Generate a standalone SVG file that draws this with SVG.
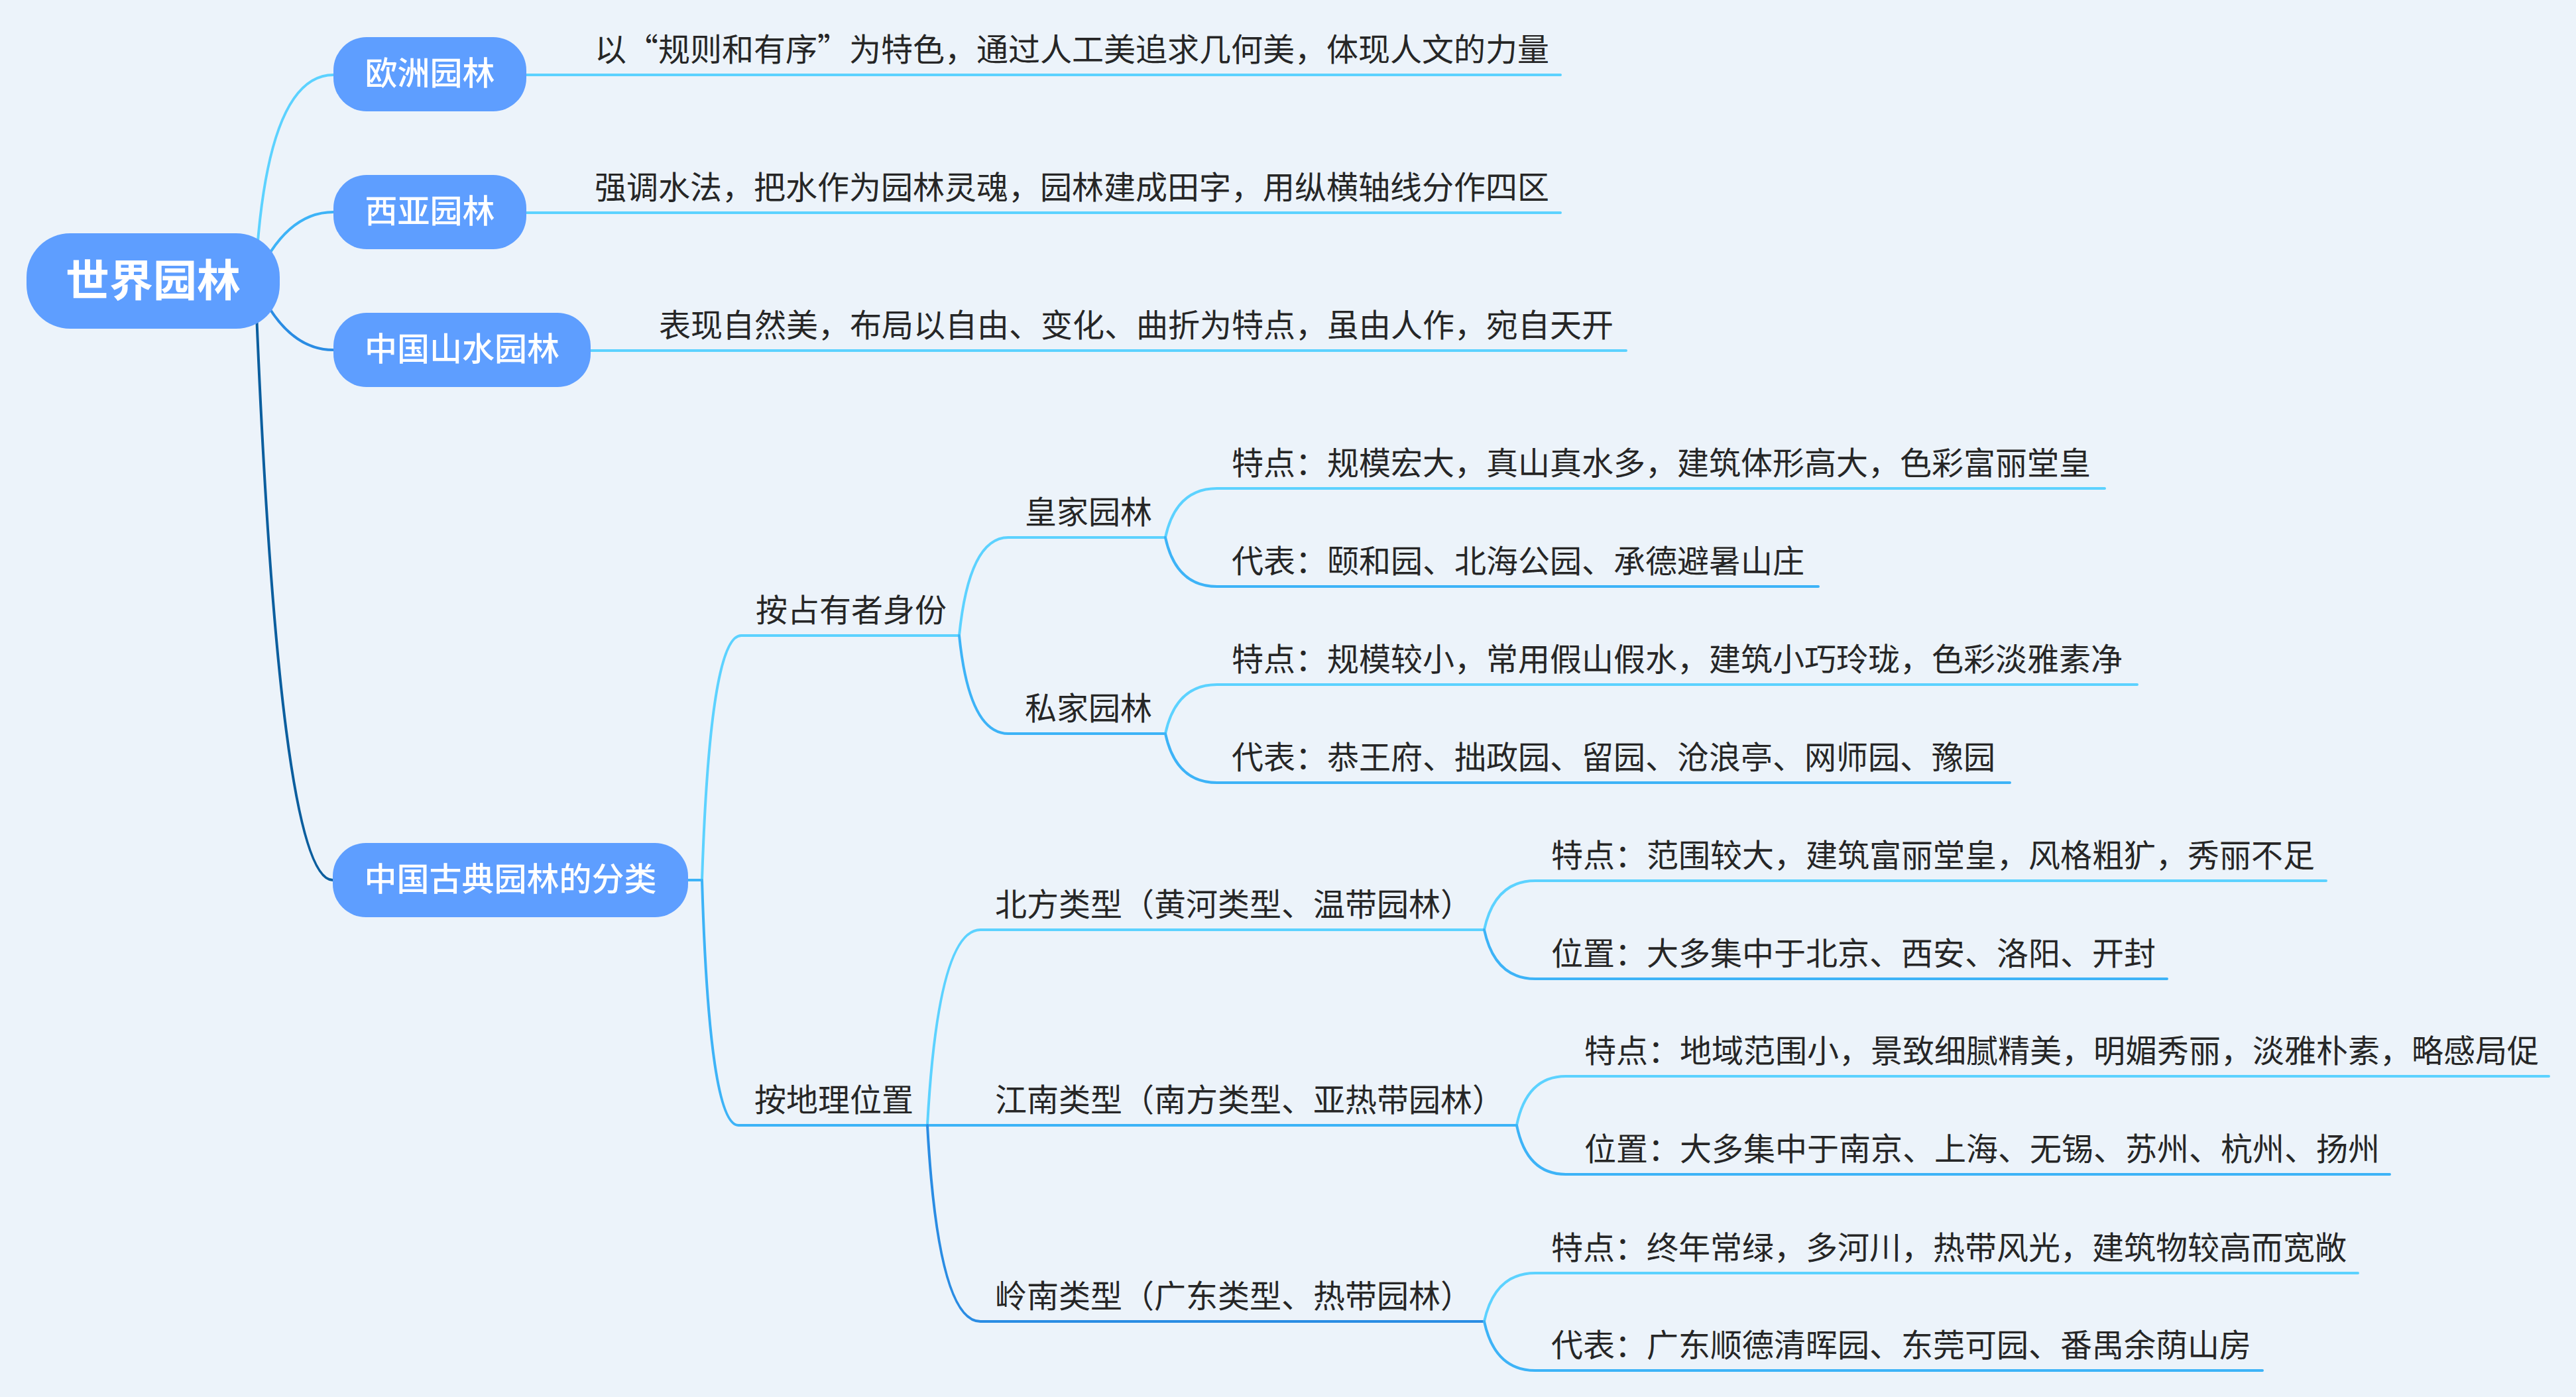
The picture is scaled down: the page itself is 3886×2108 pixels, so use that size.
<svg xmlns="http://www.w3.org/2000/svg" width="3886" height="2108" viewBox="0 0 3886 2108">
<style>
.c1{fill:none;stroke:#5CD2FF;stroke-width:4;stroke-linecap:round}
.c2{fill:none;stroke:#3DB3F7;stroke-width:4;stroke-linecap:round}
.c3{fill:none;stroke:#2A8CE3;stroke-width:4;stroke-linecap:round}
.c4{fill:none;stroke:#0B5E9E;stroke-width:4;stroke-linecap:round}
.node{fill:#5E9EFF}
.nt{font-family:"Noto Sans CJK SC","Noto Sans",sans-serif;font-size:49px;fill:#FFFFFF;text-anchor:middle;font-weight:500}
.rt{font-family:"Noto Sans CJK SC","Noto Sans",sans-serif;font-size:66px;fill:#FFFFFF;text-anchor:middle;font-weight:700}
.lt{font-family:"Noto Sans CJK SC","Noto Sans",sans-serif;font-size:48px;fill:#262626}
</style>
<rect x="0" y="0" width="3886" height="2108" fill="#ECF3FA"/>
<g id="connectors">
  <path class="c1" d="M385 424 Q400 113 503 113"/>
  <path class="c2" d="M385 424 Q430 320 503 320"/>
  <path class="c3" d="M385 424 Q430 528 503 528"/>
  <path class="c4" d="M385 424 Q420 1328 502 1328"/>
  <path class="c1" d="M794 113 H2354"/>
  <path class="c1" d="M794 321 H2354"/>
  <path class="c1" d="M891 529 H2453"/>
  <path class="c2" d="M1038 1328 H1059"/>
  <path class="c1" d="M1059 1328 Q1071 959 1118 959 H1447"/>
  <path class="c2" d="M1059 1328 Q1070 1698 1114 1698 H1399"/>
  <path class="c1" d="M1447 959 Q1462 811 1521 811 H1758"/>
  <path class="c2" d="M1447 959 Q1462 1107 1521 1107 H1758"/>
  <path class="c1" d="M1758 811 Q1774 737 1836 737 H3175"/>
  <path class="c2" d="M1758 811 Q1774 885 1836 885 H2743"/>
  <path class="c1" d="M1758 1107 Q1774 1033 1836 1033 H3224"/>
  <path class="c2" d="M1758 1107 Q1774 1181 1836 1181 H3032"/>
  <path class="c1" d="M1399 1698 Q1415 1403 1479 1403 H2239"/>
  <path class="c2" d="M1399 1698 H2288"/>
  <path class="c3" d="M1399 1698 Q1415 1994 1479 1994 H2239"/>
  <path class="c1" d="M2239 1403 Q2255 1329 2316 1329 H3509"/>
  <path class="c2" d="M2239 1403 Q2255 1477 2316 1477 H3269"/>
  <path class="c1" d="M2288 1698 Q2303 1624 2362 1624 H3845"/>
  <path class="c2" d="M2288 1698 Q2303 1772 2362 1772 H3605"/>
  <path class="c1" d="M2239 1994 Q2255 1921 2316 1921 H3557"/>
  <path class="c2" d="M2239 1994 Q2255 2068 2316 2068 H3413"/>
</g>
<g id="root">
  <rect class="node" x="40" y="352" width="382" height="144" rx="66"/>
  <text class="rt" x="231" y="447">世界园林</text>
</g>
<g id="n-europe">
  <rect class="node" x="503" y="56" width="291" height="112" rx="50"/>
  <text class="nt" x="648.5" y="128">欧洲园林</text>
  <text class="lt" x="897" y="92">以“规则和有序”为特色，通过人工美追求几何美，体现人文的力量</text>
</g>
<g id="n-westasia">
  <rect class="node" x="503" y="264" width="291" height="112" rx="50"/>
  <text class="nt" x="648.5" y="336">西亚园林</text>
  <text class="lt" x="897" y="300">强调水法，把水作为园林灵魂，园林建成田字，用纵横轴线分作四区</text>
</g>
<g id="n-china">
  <rect class="node" x="503" y="472" width="388" height="112" rx="50"/>
  <text class="nt" x="697" y="544">中国山水园林</text>
  <text class="lt" x="994" y="508">表现自然美，布局以自由、变化、曲折为特点，虽由人作，宛自天开</text>
</g>
<g id="n-classic">
  <rect class="node" x="502" y="1272" width="536" height="112" rx="50"/>
  <text class="nt" x="770" y="1344">中国古典园林的分类</text>
</g>
<g id="n-owner"><text class="lt" x="1140" y="938">按占有者身份</text></g>
<g id="n-royal"><text class="lt" x="1546" y="790">皇家园林</text></g>
<g id="n-royal-1"><text class="lt" x="1858" y="716">特点：规模宏大，真山真水多，建筑体形高大，色彩富丽堂皇</text></g>
<g id="n-royal-2"><text class="lt" x="1858" y="864">代表：颐和园、北海公园、承德避暑山庄</text></g>
<g id="n-private"><text class="lt" x="1546" y="1086">私家园林</text></g>
<g id="n-private-1"><text class="lt" x="1858" y="1012">特点：规模较小，常用假山假水，建筑小巧玲珑，色彩淡雅素净</text></g>
<g id="n-private-2"><text class="lt" x="1858" y="1160">代表：恭王府、拙政园、留园、沧浪亭、网师园、豫园</text></g>
<g id="n-geo"><text class="lt" x="1138" y="1677">按地理位置</text></g>
<g id="n-north"><text class="lt" x="1501" y="1382">北方类型（黄河类型、温带园林）</text></g>
<g id="n-north-1"><text class="lt" x="2340" y="1308">特点：范围较大，建筑富丽堂皇，风格粗犷，秀丽不足</text></g>
<g id="n-north-2"><text class="lt" x="2340" y="1456">位置：大多集中于北京、西安、洛阳、开封</text></g>
<g id="n-south"><text class="lt" x="1501" y="1677">江南类型（南方类型、亚热带园林）</text></g>
<g id="n-south-1"><text class="lt" x="2390" y="1603">特点：地域范围小，景致细腻精美，明媚秀丽，淡雅朴素，略感局促</text></g>
<g id="n-south-2"><text class="lt" x="2390" y="1751">位置：大多集中于南京、上海、无锡、苏州、杭州、扬州</text></g>
<g id="n-lingnan"><text class="lt" x="1501" y="1973">岭南类型（广东类型、热带园林）</text></g>
<g id="n-lingnan-1"><text class="lt" x="2340" y="1900">特点：终年常绿，多河川，热带风光，建筑物较高而宽敞</text></g>
<g id="n-lingnan-2"><text class="lt" x="2340" y="2047">代表：广东顺德清晖园、东莞可园、番禺余荫山房</text></g>
</svg>
